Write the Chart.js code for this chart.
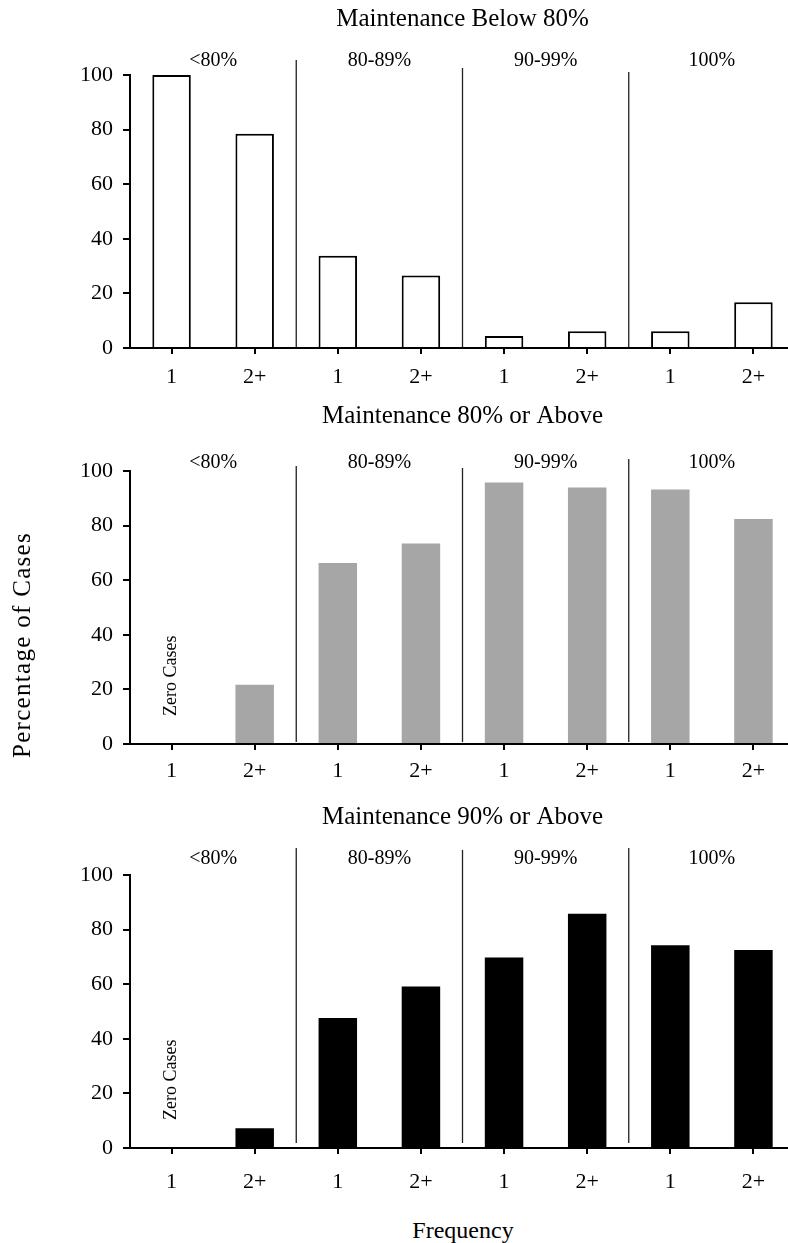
<!DOCTYPE html>
<html>
<head>
<meta charset="utf-8">
<script src="https://cdn.jsdelivr.net/npm/chart.js@4.4.1/dist/chart.umd.min.js"></script>
<style>
  body { margin: 0; width: 788px; height: 1243px; overflow: hidden; position: relative; background: #fff; }
  .panel { position: absolute; left: 0; width: 800px; height: 400px; }
  .lbl { position: absolute; font-family: 'Liberation Serif', 'Times New Roman', serif; font-size: 24px; color: #000; white-space: nowrap; transform: translate(-50%, -50%); }
</style>
</head>
<body>
<div class="panel" style="top:0"><canvas id="c1" width="800" height="400"></canvas></div>
<div class="panel" style="top:400px"><canvas id="c2" width="800" height="400"></canvas></div>
<div class="panel" style="top:800px"><canvas id="c3" width="800" height="400"></canvas></div>
<div class="lbl" style="left:22px; top:645px; font-size:25px; letter-spacing:1.3px; transform: translate(-50%, -50%) rotate(-90deg)">Percentage of Cases</div>
<div class="lbl" style="left:463px; top:1230px">Frequency</div>
<script>
const categories = ['1', '2+', '1', '2+', '1', '2+', '1', '2+']
const groupLabels = ['<80%', '80-89%', '90-99%', '100%']
const yTicks = [0, 20, 40, 60, 80, 100]

const titles = ['Maintenance Below 80%', 'Maintenance 80% or Above', 'Maintenance 90% or Above']
const below80 = [100, 78.5, 33.8, 26.6, 4.4, 6.1, 6.1, 16.8]
const above80 = [0, 21.7, 66.3, 73.4, 95.8, 94, 93.2, 82.4]
const above90 = [0, 7.2, 47.6, 59.2, 69.8, 85.8, 74.3, 72.5]

const serif = "'Liberation Serif', 'Times New Roman', serif"

// per-panel look (not data)
const panels = [
  { id: 'c1', values: below80, fill: '#ffffff', border: '#000000', bw: 2, xh: 52, tickPad: 12,
    titlePad: { top: 4.5, bottom: 40.5 }, labelY: -14, divTop: [-15, -7, -3], divBottom: 1 },
  { id: 'c2', values: above80, fill: '#a6a6a6', border: '#a6a6a6', bw: 0, xh: 56, tickPad: 10,
    titlePad: { top: 1.5, bottom: 39.5 }, labelY: -8, divTop: [-5, -3, -12], divBottom: 2 },
  { id: 'c3', values: above90, fill: '#000000', border: '#000000', bw: 0, xh: 52, tickPad: 17,
    titlePad: { top: 2.5, bottom: 42.5 }, labelY: -16, divTop: [-27, -25, -27], divBottom: 5 }
]

const groupPlugin = {
  id: 'groups',
  afterDatasetsDraw (chart, args, opts) {
    const { ctx, chartArea } = chart
    const x = chart.scales.x
    const y = chart.scales.y
    ctx.save()
    // dividers between the frequency groups
    ctx.strokeStyle = '#222'
    ctx.lineWidth = 1.3
    for (let g = 1; g < groupLabels.length; g++) {
      const px = (x.getPixelForValue(g * 2 - 1) + x.getPixelForValue(g * 2)) / 2
      ctx.beginPath()
      ctx.moveTo(px, chartArea.top + opts.divTop[g - 1])
      ctx.lineTo(px, chartArea.bottom - opts.divBottom)
      ctx.stroke()
    }
    // group labels
    ctx.fillStyle = '#000'
    ctx.font = '20px ' + serif
    ctx.textAlign = 'center'
    ctx.textBaseline = 'middle'
    groupLabels.forEach((lab, g) => {
      const px = (x.getPixelForValue(g * 2) + x.getPixelForValue(g * 2 + 1)) / 2
      ctx.fillText(lab, px, chartArea.top + opts.labelY)
    })
    // "Zero Cases" note for empty bars
    ctx.font = '18px ' + serif
    chart.data.datasets[0].data.forEach((v, i) => {
      if (v === 0) {
        ctx.save()
        ctx.translate(x.getPixelForValue(i), y.getPixelForValue(25))
        ctx.rotate(-Math.PI / 2)
        ctx.fillText('Zero Cases', 0, 0)
        ctx.restore()
      }
    })
    ctx.restore()
  }
}

panels.forEach((p, n) => {
  new Chart(document.getElementById(p.id).getContext('2d'), {
    type: 'bar',
    data: {
      labels: categories,
      datasets: [{
        data: p.values,
        backgroundColor: p.fill,
        borderColor: p.border,
        borderWidth: p.bw,
        barPercentage: 0.463,
        categoryPercentage: 1
      }]
    },
    options: {
      responsive: false,
      animation: false,
      devicePixelRatio: 1,
      layout: { padding: { left: 0, right: 5, top: 0, bottom: 0 } },
      scales: {
        x: {
          grid: { display: true, drawOnChartArea: false, offset: false, tickLength: 6, color: '#000', lineWidth: 2 },
          border: { display: true, color: '#000', width: 2 },
          ticks: { color: '#000', font: { family: serif, size: 22, lineHeight: 1 }, padding: p.tickPad, maxRotation: 0 },
          afterFit (scale) { scale.height = p.xh }
        },
        y: {
          min: 0,
          max: 100,
          afterBuildTicks (scale) { scale.ticks = yTicks.map(v => ({ value: v })) },
          grid: { display: true, drawOnChartArea: false, tickLength: 7, color: '#000', lineWidth: 2 },
          border: { display: true, color: '#000', width: 2 },
          ticks: { color: '#000', font: { family: serif, size: 22 }, padding: 10 },
          afterFit (scale) { scale.width = 130 }
        }
      },
      plugins: {
        legend: { display: false },
        tooltip: { enabled: false },
        title: {
          display: true,
          text: titles[n],
          fullSize: false,
          color: '#000',
          font: { family: serif, size: 25, weight: 'normal', lineHeight: 1.2 },
          padding: p.titlePad
        },
        groups: { divTop: p.divTop, divBottom: p.divBottom, labelY: p.labelY }
      }
    },
    plugins: [groupPlugin]
  })
})
</script>
</body>
</html>
